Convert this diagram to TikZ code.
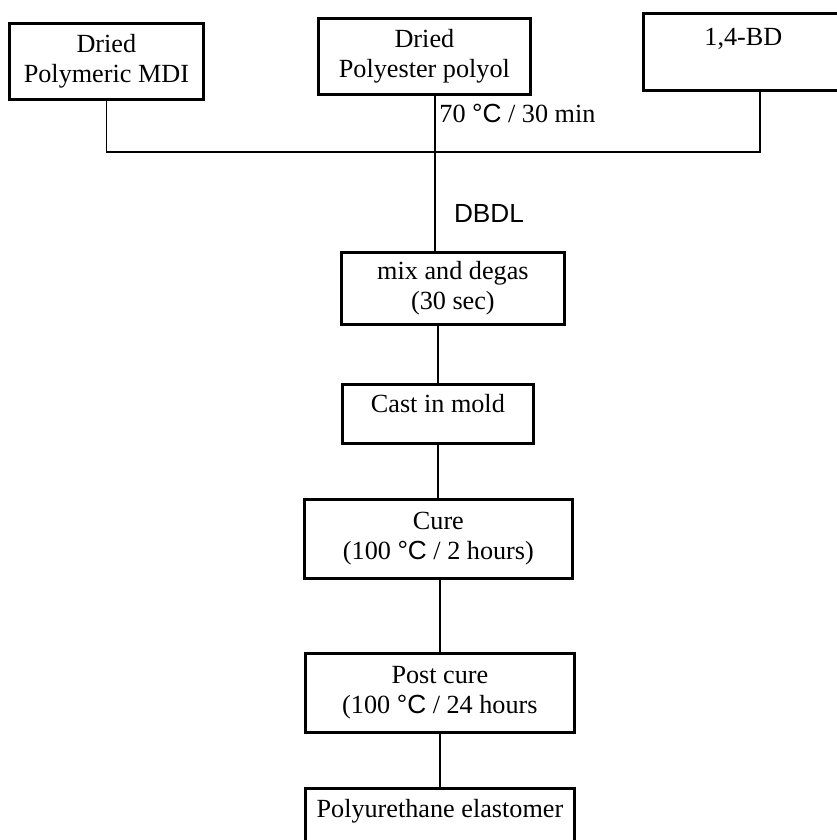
\documentclass[tikz,border=0pt]{standalone}
\usepackage{fontspec}
\setmainfont{Liberation Serif}
\setsansfont{Liberation Sans}
\usetikzlibrary{positioning}

\newcommand{\degC}{\textsf{\textdegree C}}

\begin{document}
\begin{tikzpicture}[x=0.5pt, y=-0.5pt,
    stage/.style={draw, line width=1.4pt, anchor=north west, align=center, inner sep=0pt, font=\fontsize{13.1}{15}\selectfont},
    link/.style={line width=0.9pt},
    note/.style={inner sep=0pt, font=\fontsize{13.1}{15}\selectfont}]
    \useasboundingbox (0,0) rectangle (836,840);
    \node[stage, minimum width=97pt, minimum height=38pt] (mdi) at (8,22) {Dried\\Polymeric MDI};
    \node[stage, minimum width=106pt, minimum height=38pt] (polyol) at (317,17) {Dried\\Polyester polyol};
    \node[stage, minimum width=100pt, minimum height=38.5pt] (bd) at (642,12) {1,4-BD\\\mbox{}};
    \node[stage, minimum width=111.5pt, minimum height=36pt] (mix) at (340,251) {mix and degas\\(30 sec)};
    \node[stage, minimum width=95.5pt, text height=14pt, text depth=15.5pt] (cast) at (341,383) {Cast in mold};
    \node[stage, minimum width=134pt, minimum height=39.5pt] (cure) at (303,498) {Cure\\(100 \degC{} / 2 hours)};
    \node[stage, minimum width=134.5pt, minimum height=39.5pt] (post) at (304,652) {Post cure\\(100 \degC{} / 24 hours};
    \node[stage, minimum width=134.5pt, text height=14.5pt, text depth=16pt] (pu) at (304,787) {Polyurethane elastomer};
    \coordinate (trunk) at (435,0);
    \coordinate (bdjoin) at (760,152);
    \draw[link] (mdi.south) |- (bdjoin) -- (bdjoin |- bd.south);
    \draw[link] (trunk |- polyol.south) -- (trunk |- mix.north);
    \draw[link] (cast.north |- mix.south) -- (cast.north);
    \draw[link] (cast.south) -- (cast.south |- cure.north);
    \draw[link] (post.north |- cure.south) -- (post.north);
    \draw[link] (post.south) -- (pu.north);
    \node[note, anchor=west] (temp) at (439,113) {70 \degC{} / 30 min};
    \node[note, font=\fontsize{13.1}{15}\selectfont\sffamily] (catalyst) at (489,213) {DBDL};
\end{tikzpicture}
\end{document}
